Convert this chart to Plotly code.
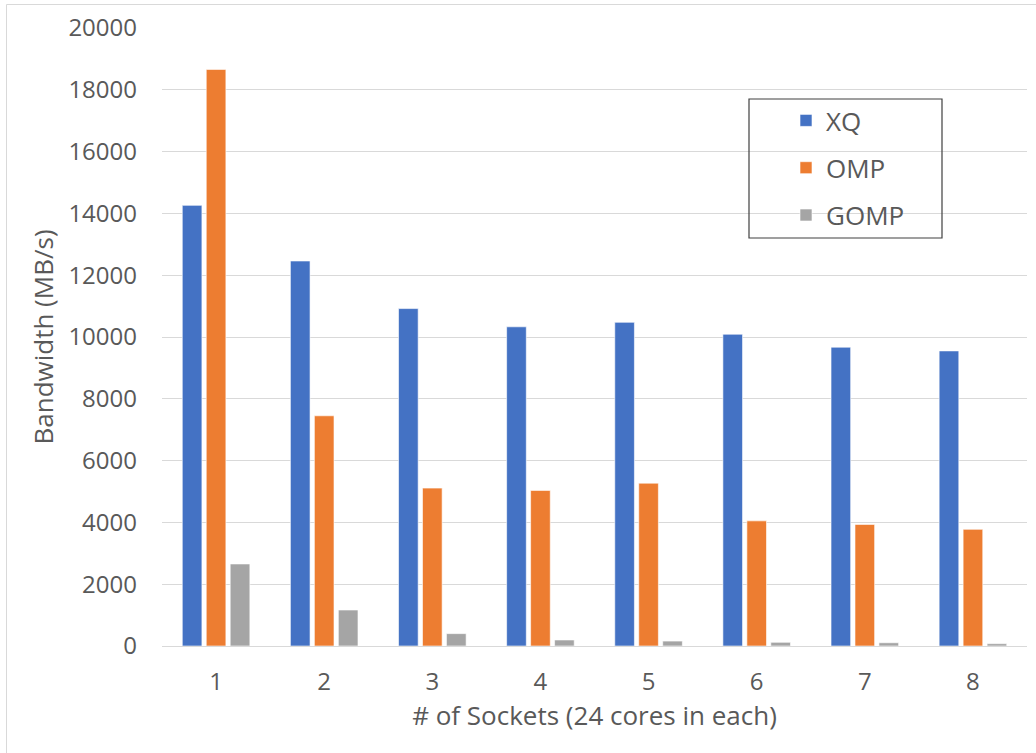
import plotly.graph_objects as go

categories = ["1", "2", "3", "4", "5", "6", "7", "8"]
xq = [14260, 12460, 10920, 10330, 10475, 10090, 9670, 9550]
omp = [18660, 7450, 5110, 5035, 5270, 4050, 3935, 3775]
gomp = [2655, 1165, 400, 195, 160, 120, 105, 75]

series = [("XQ", xq, "#4472C4"), ("OMP", omp, "#ED7D31"), ("GOMP", gomp, "#A5A5A5")]

FONT = "Open Sans"
TXT = "#595959"

fig = go.Figure()
for name, vals, col in series:
    fig.add_trace(go.Bar(
        x=categories, y=vals, name=name, legendgroup=name,
        marker=dict(color=col, line=dict(color="rgba(255,255,255,0.6)", width=1)),
    ))

L, R, T, B = 162, 9, 28, 107
W, H = 1036, 753
pw, ph = W - L - R, H - T - B

def px_x(x):
    return (x - L) / pw

def px_y(y):
    return (H - B - y) / ph

fig.update_layout(
    width=W, height=H,
    margin=dict(l=L, r=R, t=T, b=B, autoexpand=False),
    paper_bgcolor="white", plot_bgcolor="white",
    barmode="group", bargap=0.335, bargroupgap=0.18,
    font=dict(family=FONT, color=TXT, size=24),
    showlegend=True,
    legend=dict(
        x=px_x(786), y=px_y(97), xanchor="left", yanchor="top",
        font=dict(size=26, color=TXT, family=FONT),
        bgcolor="rgba(0,0,0,0)", borderwidth=0,
        tracegroupgap=10.5,
    ),
    shapes=[
        dict(type="rect", xref="paper", yref="paper",
             x0=px_x(749), x1=px_x(942), y0=px_y(238), y1=px_y(99),
             line=dict(color="#404040", width=1.2), fillcolor="rgba(0,0,0,0)", layer="above"),
        dict(type="rect", xref="paper", yref="paper",
             x0=px_x(6.5), x1=px_x(1045), y0=px_y(765), y1=px_y(4.5),
             line=dict(color="#D9D9D9", width=1), fillcolor="rgba(0,0,0,0)", layer="below"),
    ],
)

fig.update_yaxes(
    range=[0, 20000], dtick=2000, tickformat="d",
    showgrid=True, gridcolor="#D9D9D9", gridwidth=1,
    zeroline=True, zerolinecolor="#D9D9D9", zerolinewidth=1,
    showline=False, ticks="",
    ticklabelstandoff=24,
    tickfont=dict(size=24, color=TXT, family=FONT),
    title=dict(text="Bandwidth (MB/s)", font=dict(size=26, color=TXT, family=FONT), standoff=7),
)
fig.update_xaxes(
    showgrid=False, showline=True, linecolor="#D9D9D9", linewidth=1, ticks="",
    ticklabelstandoff=14,
    tickfont=dict(size=24, color=TXT, family=FONT),
    title=dict(text="# of Sockets (24 cores in each)", font=dict(size=26, color=TXT, family=FONT), standoff=8),
)

fig.write_html("out.html")
